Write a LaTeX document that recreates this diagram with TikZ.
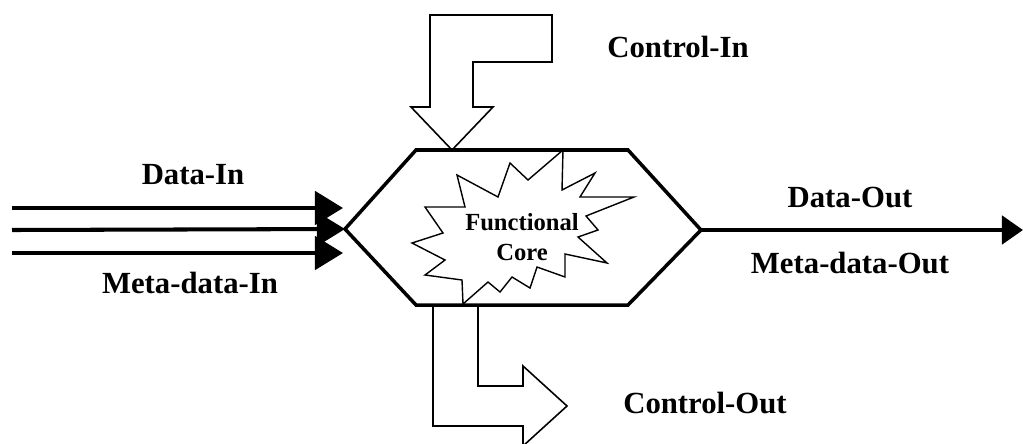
\documentclass[tikz,border=0pt]{standalone}
\usepackage{fontspec}
\setmainfont{Liberation Serif}
\usetikzlibrary{arrows.meta}

\begin{document}
\begin{tikzpicture}[x=0.02cm, y=-0.02cm,
    lbl/.style={font=\bfseries\fontsize{17.5}{20}\selectfont},
    flow/.style={line width=2.3pt, -{Triangle[length=16pt, width=19pt]}},
    blockarrow/.style={draw, line width=0.9pt, fill=white, line join=miter}]
    \useasboundingbox (0,0) rectangle (1023,443);
    \clip (0,0) rectangle (1023,443);

    % corners of the hexagon
    \coordinate (hexTL) at (416,150);
    \coordinate (hexTR) at (628,150);
    \coordinate (hexR) at (701,230);
    \coordinate (hexBR) at (628,305);
    \coordinate (hexBL) at (416,305);
    \coordinate (hexL) at (345,229);

    % Control-In block arrow
    \draw[blockarrow] (430,107) -- (430,15) -- (552,15) -- (552,62) -- (473,62) -- (473,107)
        -- (493,107) -- (452,150) -- (411,107) -- cycle;

    % Control-Out block arrow
    \draw[blockarrow] (433,305) -- (433,426) -- (523,426) -- (523,446) -- (567,406)
        -- (523,366) -- (523,386) -- (478,386) -- (478,305);

    % the module
    \draw[line width=2pt, line join=miter, fill=white] (hexTL) -- (hexTR) -- (hexR) -- (hexBR) -- (hexBL) -- (hexL) -- cycle;

    % burst around the core
    \draw[line width=0.8pt, line join=miter] (563,150) -- (562,190) -- (595,173) -- (580,197) -- (634,197)
        -- (586,216) -- (598,230) -- (578,237) -- (607,263) -- (565,254) -- (565,277) -- (537,267)
        -- (530,288) -- (512,277) -- (500,292) -- (488,282) -- (463,304) -- (462,280) -- (425,275)
        -- (445,260) -- (412,243) -- (443,233) -- (425,207) -- (465,207) -- (457,175) -- (498,197)
        -- (510,163) -- (528,180) -- cycle;
    \node[font=\bfseries\fontsize{14}{17}\selectfont, align=center] (core) at (522,237) {Functional\\Core};

    % inputs
    \coordinate (src1) at (12,208);
    \coordinate (src2) at (12,230);
    \coordinate (src3) at (12,253);
    \coordinate (in1) at (343,208);
    \coordinate (in3) at (343,253);
    \draw[flow] (src1) -- (in1);
    \draw[flow] (src2) -- (hexL);
    \draw[flow] (src3) -- (in3);

    % output
    \coordinate (sink) at (1023,230);
    \draw[flow, line width=2.6pt, -{Triangle[length=12pt, width=16pt]}] (hexR) -- (sink);

    % labels
    \node[lbl] (datain) at (193,175) {Data-In};
    \node[lbl] (metain) at (190,283) {Meta-data-In};
    \node[lbl] (dataout) at (850,198) {Data-Out};
    \node[lbl] (metaout) at (850,263) {Meta-data-Out};
    \node[lbl] (ctrlin) at (678,47) {Control-In};
    \node[lbl] (ctrlout) at (705,403) {Control-Out};
\end{tikzpicture}
\end{document}
